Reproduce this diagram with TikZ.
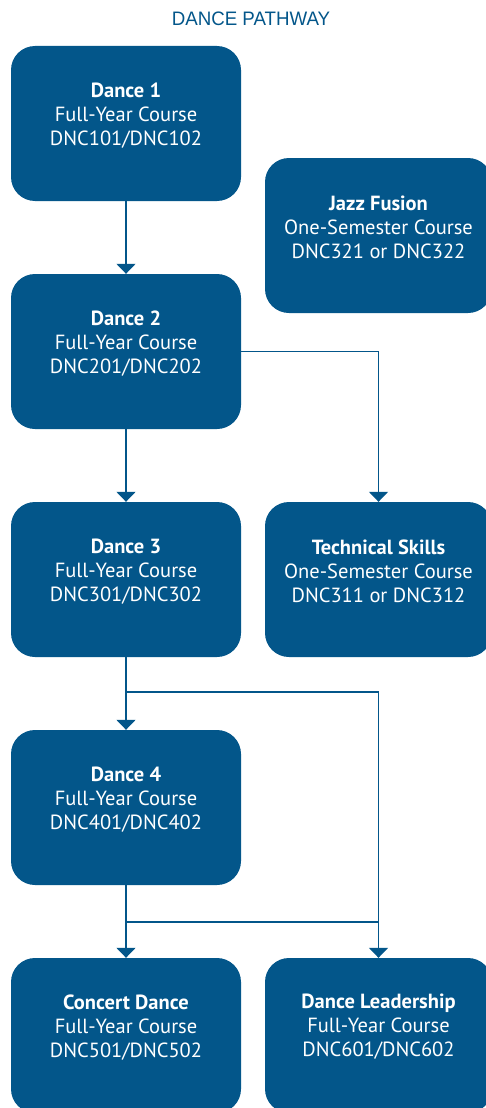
\documentclass[tikz,border=0pt]{standalone}
\usepackage{fontspec}
\setmainfont{PT Sans}
\newfontfamily\headfont[FakeStretch=0.96]{Liberation Sans}
\usetikzlibrary{arrows.meta}
\definecolor{navy}{HTML}{03568A}
\begin{document}
\begin{tikzpicture}[x=1pt,y=-1pt,
  course/.style={fill=navy, draw=none, rounded corners=24pt,
    minimum width=230pt, minimum height=155pt, inner sep=0pt},
  rcourse/.style={course, minimum width=227pt},
  ctext/.style={text=white, align=center, inner sep=0pt,
    font=\fontsize{20.5}{24}\selectfont},
  link/.style={draw=navy, line width=1.5pt},
  arr/.style={link, -{Triangle[width=19pt,length=10pt]}}]
\useasboundingbox (0,0) rectangle (486,1108);

% heading
\node[font=\headfont\fontsize{19.5}{22}\selectfont, text=navy] (title) at (251,19) {DANCE PATHWAY};

% course boxes
\node[course] (d1) at (126,123.5) {};
\node[course] (d2) at (126,351.5) {};
\node[course] (d3) at (126,579.5) {};
\node[course] (d4) at (126,807.5) {};
\node[course] (concert) at (126,1035.5) {};
\node[rcourse] (jazz) at (378.5,235.5) {};
\node[rcourse] (tech) at (378.5,579.5) {};
\node[rcourse] (lead) at (378.5,1035.5) {};

% course texts
\node[ctext] (d1t) at (126,116) {\textbf{Dance 1}\\Full-Year Course\\DNC101/DNC102};
\node[ctext] (d2t) at (126,344) {\textbf{Dance 2}\\Full-Year Course\\DNC201/DNC202};
\node[ctext] (d3t) at (126,572) {\textbf{Dance 3}\\Full-Year Course\\DNC301/DNC302};
\node[ctext] (d4t) at (126,800) {\textbf{Dance 4}\\Full-Year Course\\DNC401/DNC402};
\node[ctext] (concertt) at (126,1028) {\textbf{Concert Dance}\\Full-Year Course\\DNC501/DNC502};
\node[ctext] (jazzt) at (378.5,227) {\textbf{Jazz Fusion}\\One-Semester Course\\DNC321 or DNC322};
\node[ctext] (techt) at (378.5,571) {\textbf{Technical Skills}\\One-Semester Course\\DNC311 or DNC312};
\node[ctext] (leadt) at (378.5,1027) {\textbf{Dance Leadership}\\Full-Year Course\\DNC601/DNC602};

% connectors
\coordinate (j1) at (126,692);
\coordinate (j2) at (126,922);
\draw[arr] (d1.south) -- (d2.north);
\draw[arr] (d2.south) -- (d3.north);
\draw[arr] (d2.east) -| (tech.north);
\draw[arr] (d3.south) -- (d4.north);
\draw[arr] (j1) -| (lead.north);
\draw[arr] (d4.south) -- (concert.north);
\draw[link] (j2) -- (j2 -| lead.north);
\end{tikzpicture}
\end{document}
